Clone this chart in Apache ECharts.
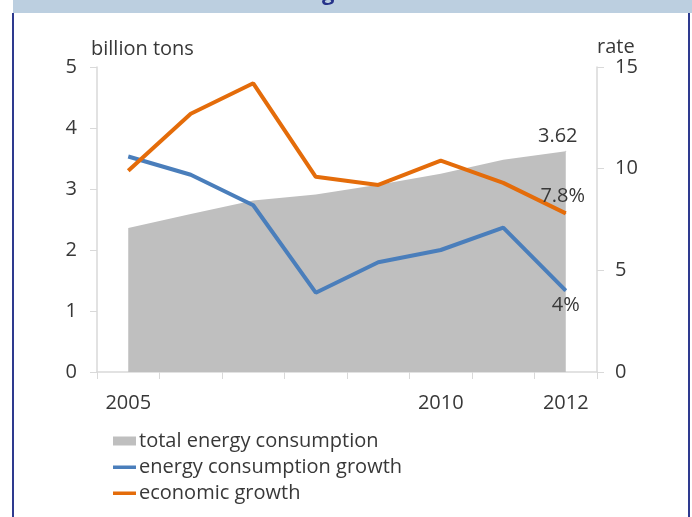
<!DOCTYPE html>
<html lang="en">
<head>
    <meta charset="UTF-8">
    <style type="text/css">
        html, body { margin: 0; padding: 0; background: #fff; }
        #main { width: 692px; height: 517px; }
    </style>
</head>
<body>
<div id="main"></div>
<script src="https://cdn.jsdelivr.net/npm/echarts@6/dist/echarts.min.js"></script>
<script type="text/javascript">
    // data
    var years = ['2005', '2006', '2007', '2008', '2009', '2010', '2011', '2012'];
    var shownYears = ['2005', '2010', '2012'];
    var totalConsumption = [2.36, 2.59, 2.81, 2.91, 3.07, 3.25, 3.48, 3.62];
    var consumptionGrowth = [10.6, 9.7, 8.2, 3.9, 5.4, 6.0, 7.1, 4.0];
    var economicGrowth = [9.9, 12.7, 14.2, 9.6, 9.2, 10.4, 9.3, 7.8];
    var endLabels = ['3.62', '4%', '7.8%'];

    var font = '"Open Sans", Lato, sans-serif';
    var txt = '#383838';
    var axisGray = '#d9d9d9';
    var fs = 20;
    // thin bar icon for the line entries of the legend
    var lineIcon = 'path://M0,0H1V0.01H0Z M0,3H23V6.5H0Z M0,9H1V9.01H0Z';

    function withEndLabel(values, text, pos, offset) {
        return values.map(function (v, i) {
            if (i !== values.length - 1) return v;
            return {
                value: v,
                symbol: 'circle',
                symbolSize: 1,
                label: {
                    show: true, position: pos, offset: offset,
                    formatter: text, color: txt, fontSize: fs, fontFamily: font
                }
            };
        });
    }

    var myChart = echarts.init(document.getElementById('main'));

    var option = {
        backgroundColor: '#fff',
        animation: false,
        graphic: [
            { type: 'rect', shape: { x: 13, y: 0, width: 679, height: 13 }, style: { fill: '#bccfe0' } },
            { type: 'line', shape: { x1: 13, y1: 13, x2: 13, y2: 517 }, style: { stroke: '#2e3a8f', lineWidth: 2 } },
            { type: 'line', shape: { x1: 689, y1: 13, x2: 689, y2: 517 }, style: { stroke: '#2e3a8f', lineWidth: 2 } },
            { type: 'text', left: 322, top: -17, style: { text: 'g', fill: '#26338a', font: 'bold 22px ' + font } }
        ],
        grid: { left: 97, right: 95, top: 67, bottom: 145 },
        legend: {
            orient: 'vertical',
            left: 108,
            top: 426,
            itemWidth: 23,
            itemHeight: 9,
            itemGap: 6,
            textStyle: { color: txt, fontSize: fs, fontFamily: font, padding: [0, 0, 0, -2] },
            data: [
                { name: 'total energy consumption', icon: 'rect' },
                { name: 'energy consumption growth', icon: lineIcon },
                { name: 'economic growth', icon: lineIcon }
            ]
        },
        xAxis: {
            type: 'category',
            data: years,
            boundaryGap: true,
            axisLine: { lineStyle: { color: axisGray, width: 1.5 } },
            axisTick: { show: true, interval: 0, length: 7, lineStyle: { color: axisGray } },
            axisLabel: {
                interval: 0, margin: 21, color: txt, fontSize: fs, fontFamily: font,
                formatter: function (v) { return shownYears.indexOf(v) >= 0 ? v : ''; }
            },
            splitLine: { show: false }
        },
        yAxis: [
            {
                type: 'value', min: 0, max: 5, interval: 1,
                name: 'billion tons',
                nameGap: 8,
                nameTextStyle: { color: txt, fontSize: fs, fontFamily: font, align: 'left', padding: [0, 0, 0, -6] },
                axisLine: { show: true, lineStyle: { color: axisGray, width: 1.5 } },
                axisTick: { show: true, length: 7, lineStyle: { color: axisGray } },
                axisLabel: { margin: 20, color: txt, fontSize: fs, fontFamily: font },
                splitLine: { show: false }
            },
            {
                type: 'value', min: 0, max: 15, interval: 5,
                name: 'rate',
                nameGap: 8,
                nameTextStyle: { color: txt, fontSize: fs, fontFamily: font, align: 'left' },
                axisLine: { show: true, lineStyle: { color: axisGray, width: 1.5 } },
                axisTick: { show: true, length: 7, lineStyle: { color: axisGray } },
                axisLabel: { margin: 18, color: txt, fontSize: fs, fontFamily: font },
                splitLine: { show: false }
            }
        ],
        series: [
            {
                name: 'total energy consumption',
                type: 'line',
                yAxisIndex: 0,
                symbol: 'none',
                itemStyle: { color: '#bfbfbf' },
                lineStyle: { width: 0, color: '#bfbfbf' },
                areaStyle: { color: '#bfbfbf', opacity: 1 },
                data: withEndLabel(totalConsumption, endLabels[0], 'top', [-8, 1])
            },
            {
                name: 'energy consumption growth',
                type: 'line',
                yAxisIndex: 1,
                symbol: 'none',
                itemStyle: { color: '#4a7ebb' },
                lineStyle: { width: 4, color: '#4a7ebb' },
                data: withEndLabel(consumptionGrowth, endLabels[1], 'bottom', [0, -1])
            },
            {
                name: 'economic growth',
                type: 'line',
                yAxisIndex: 1,
                symbol: 'none',
                itemStyle: { color: '#e46c0a' },
                lineStyle: { width: 4, color: '#e46c0a' },
                data: withEndLabel(economicGrowth, endLabels[2], 'top', [-3, -2])
            }
        ]
    };

    myChart.setOption(option);
</script>
</body>
</html>
